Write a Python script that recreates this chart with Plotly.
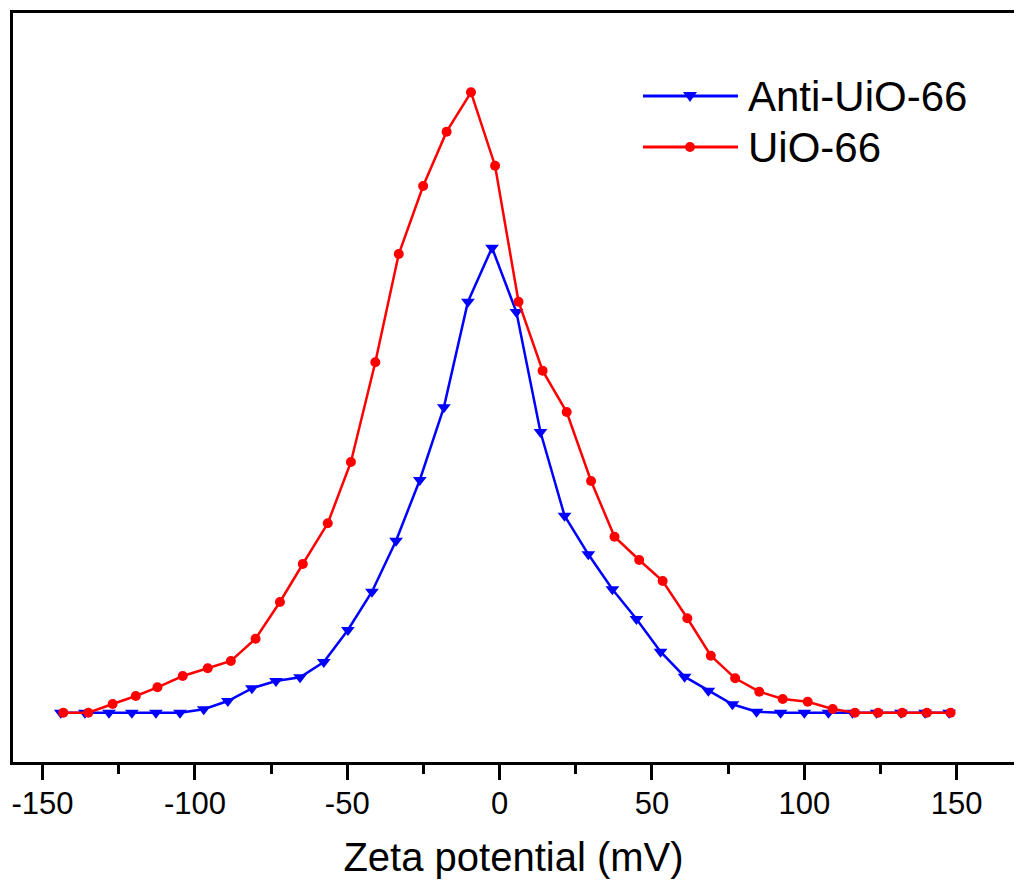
import plotly.graph_objects as go

# ---- data ----
anti_x = [-144.0, -136.1, -128.2, -120.7, -112.8, -104.9, -97.1, -89.2, -81.3, -73.4,
          -65.5, -57.7, -49.8, -41.9, -34.0, -26.2, -18.3, -10.4, -2.5, 5.5,
          13.4, 21.3, 29.1, 37.0, 44.9, 52.8, 60.7, 68.5, 76.4, 84.3,
          92.2, 100.0, 107.9, 115.8, 123.7, 131.7, 139.6, 147.5]
anti_y = [0, 0, 0, 0, 0, 0, 3.4, 11.7, 24.4, 31.7,
          35.4, 50.7, 82.7, 121, 172, 232.7, 305.4, 411, 465, 400.7,
          280.7, 197, 158.4, 123.4, 93.7, 61, 36, 22, 8.4, 1,
          0, 0, 0, 0, 0, 0, 0, 0]

uio_x = [-143.2, -135.0, -127.0, -119.4, -112.3, -104.0, -95.8, -88.2, -80.1, -72.1,
         -64.6, -56.4, -48.8, -40.8, -33.1, -25.1, -17.4, -9.4, -1.5, 6.2,
         14.1, 22.0, 30.0, 37.7, 45.8, 53.5, 61.6, 69.3, 77.3, 85.2,
         92.9, 101.1, 109.3, 116.6, 124.2, 132.1, 140.2, 148.0]
uio_y = [0, 0, 8.7, 16.7, 25.4, 36.7, 44.4, 51.7, 74, 110.7,
         148.7, 189.4, 250.7, 350.4, 458.7, 526.7, 581, 620.4, 547, 411,
         342, 300.7, 231.7, 176, 152.7, 131.7, 94.4, 57, 34.4, 21,
         13.7, 11, 3.7, 0, 0, 0, 0, 0]

series_names = ["Anti-UiO-66", "UiO-66"]
series_colors = ["#0000FF", "#FF0000"]
x_tickvals = [-150, -100, -50, 0, 50, 100, 150]
x_ticktext = ["-150", "-100", "-50", "0", "50", "100", "150"]
x_title = "Zeta potential (mV)"

FONT = "Arial, Liberation Sans, sans-serif"
OFF = 8  # default page body margin
W, H = 1006, 871
L, T, R, B = 5, 5, 0, 117

fig = go.Figure()
fig.add_trace(go.Scatter(x=anti_x, y=anti_y, mode="lines+markers", name=series_names[0],
                         line=dict(color=series_colors[0], width=2.5),
                         marker=dict(symbol="triangle-down", size=12, color=series_colors[0]),
                         showlegend=False))
fig.add_trace(go.Scatter(x=uio_x, y=uio_y, mode="lines+markers", name=series_names[1],
                         line=dict(color=series_colors[1], width=2.5),
                         marker=dict(symbol="circle", size=10, color=series_colors[1]),
                         showlegend=False))

# ---- custom legend (layout decoration; page-pixel positions -> paper coords) ----
pw, ph = W - L - R, H - T - B
def px(x):
    return (x - OFF - L) / pw
def py(y):
    return (H - B - (y - OFF)) / ph

legend_rows = [(series_names[0], series_colors[0], 96, "tri"),
               (series_names[1], series_colors[1], 147, "circ")]
shapes = []
annotations = []
for name, col, yy, kind in legend_rows:
    shapes.append(dict(type="line", xref="paper", yref="paper",
                       x0=px(643), x1=px(738), y0=py(yy), y1=py(yy),
                       line=dict(color=col, width=3)))
    if kind == "circ":
        shapes.append(dict(type="circle", xref="paper", yref="paper",
                           x0=px(685), x1=px(695), y0=py(yy + 5), y1=py(yy - 5),
                           fillcolor=col, line=dict(color=col, width=0)))
    else:
        shapes.append(dict(type="path", xref="paper", yref="paper",
                           path=f"M {px(683)} {py(yy - 4)} L {px(697)} {py(yy - 4)} L {px(690)} {py(yy + 6)} Z",
                           fillcolor=col, line=dict(color=col, width=0)))
    annotations.append(dict(text=name, xref="paper", yref="paper", x=px(746), y=py(yy),
                            xanchor="left", yanchor="middle", showarrow=False,
                            font=dict(family=FONT, size=42, color="black")))

fig.update_layout(
    width=W, height=H,
    margin=dict(l=L, r=R, t=T, b=B),
    paper_bgcolor="white", plot_bgcolor="white",
    shapes=shapes, annotations=annotations,
    xaxis=dict(range=[-159.7, 168.8], tickvals=x_tickvals, ticktext=x_ticktext,
               ticks="outside", ticklen=15, tickwidth=2.5, tickcolor="black",
               minor=dict(dtick=25, tick0=0, ticks="outside", ticklen=9, tickwidth=2.5, tickcolor="black"),
               showline=True, linewidth=2.5, linecolor="black", mirror=True,
               showgrid=False, zeroline=False, ticklabelstandoff=-3,
               tickfont=dict(family=FONT, size=31, color="black"),
               title=dict(text=x_title, font=dict(family=FONT, size=40, color="black"), standoff=25)),
    yaxis=dict(range=[-49.3, 699.7], showticklabels=False, ticks="",
               showline=True, linewidth=2.5, linecolor="black", mirror=False,
               showgrid=False, zeroline=False),
)

fig.write_html("out.html")
